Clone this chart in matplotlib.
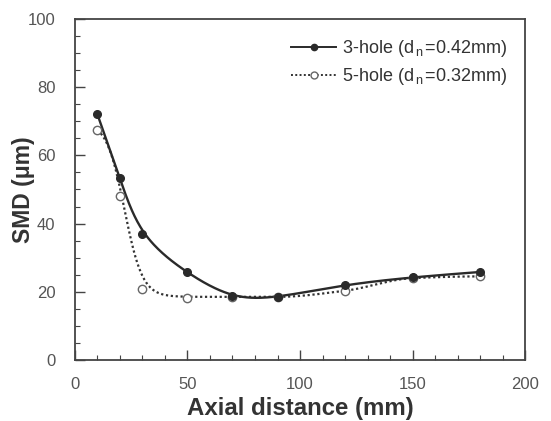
import numpy as np
import matplotlib
matplotlib.use('Agg')
import matplotlib.pyplot as plt
from matplotlib.ticker import MultipleLocator

plt.rcParams['font.family'] = ['Liberation Sans', 'DejaVu Sans']
plt.rcParams['mathtext.fontset'] = 'custom'
plt.rcParams['mathtext.rm'] = 'Liberation Sans'

# measured points
x_3hole = [10, 20, 30, 50, 70, 90, 120, 150, 180]
smd_3hole = [72.0, 53.5, 36.8, 25.7, 18.7, 18.5, 22.0, 24.2, 25.8]

x_5hole = [10, 20, 30, 50, 70, 90, 120, 150, 180]
smd_5hole = [67.5, 48.0, 20.8, 18.1, 18.4, 18.5, 20.3, 24.0, 24.5]

label_3hole = '3-hole (d$_{\\mathregular{\\,n\\,}}$=0.42mm)'
label_5hole = '5-hole (d$_{\\mathregular{\\,n\\,}}$=0.32mm)'

# fitted decay for the 5-hole curve
fit5 = dict(base=18.5, amp=51.4, x0=22.0, w=4.0)


def bspline(xk, yk, n=40, pull=0.7):
    # uniform cubic B-spline; control points pushed towards the data
    P = np.column_stack([xk, yk]).astype(float)
    Q = P.copy()
    Q[1:-1] = P[1:-1] + pull * (P[1:-1] - (P[:-2] + 4 * P[1:-1] + P[2:]) / 6)
    Q = np.vstack([Q[0], Q[0], Q, Q[-1], Q[-1]])
    t = np.linspace(0, 1, n)[:, None]
    b0 = (1 - t) ** 3 / 6
    b1 = (3 * t**3 - 6 * t**2 + 4) / 6
    b2 = (-3 * t**3 + 3 * t**2 + 3 * t + 1) / 6
    b3 = t**3 / 6
    segs = [b0 * Q[i] + b1 * Q[i + 1] + b2 * Q[i + 2] + b3 * Q[i + 3]
            for i in range(len(Q) - 3)]
    pts = np.vstack(segs)
    return pts[:, 0], pts[:, 1]


def pchip(xk, yk, xs):
    xk = np.asarray(xk, float)
    yk = np.asarray(yk, float)
    h = np.diff(xk)
    d = np.diff(yk) / h
    n = len(xk)
    m = np.zeros(n)
    for i in range(1, n - 1):
        if d[i - 1] * d[i] > 0:
            w1 = 2 * h[i] + h[i - 1]
            w2 = h[i] + 2 * h[i - 1]
            m[i] = (w1 + w2) / (w1 / d[i - 1] + w2 / d[i])
    idx = np.clip(np.searchsorted(xk, xs) - 1, 0, n - 2)
    hh = h[idx]
    t = (xs - xk[idx]) / hh
    h00 = 2 * t**3 - 3 * t**2 + 1
    h10 = t**3 - 2 * t**2 + t
    h01 = -2 * t**3 + 3 * t**2
    h11 = t**3 - t**2
    return (h00 * yk[idx] + h10 * hh * m[idx]
            + h01 * yk[idx + 1] + h11 * hh * m[idx + 1])


cx3, cy3 = bspline(x_3hole, smd_3hole)

xa = np.linspace(10, 90, 300)
curve5a = fit5['base'] + fit5['amp'] / (1 + np.exp((xa - fit5['x0']) / fit5['w']))
tail_x = [x for x in x_5hole if x >= 90]
tail_y = smd_5hole[-len(tail_x):]
xb = np.linspace(90, 180, 200)
curve5b = pchip(tail_x, tail_y, xb)
xs5 = np.concatenate([xa, xb])
curve5 = np.concatenate([curve5a, curve5b])

fig = plt.figure(figsize=(5.51, 4.21), dpi=100)
ax = fig.add_axes([0.136, 0.145, 0.817, 0.81])

line_col = '#2a2a2a'
ax.plot(xs5, curve5, linestyle=(0, (1, 1.2)), color='#333333', lw=1.6)
ax.plot(cx3, cy3, '-', color=line_col, lw=1.7)
ax.plot(x_5hole, smd_5hole, 'o', mfc='white', mec='#666666', mew=1.0, ms=6)
ax.plot(x_3hole, smd_3hole, 'o', color=line_col, ms=5.5)

# legend handles
h1, = ax.plot([], [], '-', color=line_col, lw=1.4, marker='o', ms=4.5)
h2, = ax.plot([], [], linestyle=(0, (1, 1.2)), color='#333333', lw=1.4,
              marker='o', mfc='white', mec='#666666', ms=5)
leg = ax.legend([h1, h2], [label_3hole, label_5hole], loc='upper right',
                frameon=False, fontsize=13, handlelength=2.5,
                handletextpad=0.3, labelspacing=0.4,
                bbox_to_anchor=(1.0, 0.997), borderaxespad=0.6)
for t in leg.get_texts():
    t.set_color('#333333')

ax.set_xlim(0, 200)
ax.set_ylim(0, 100)
ax.xaxis.set_major_locator(MultipleLocator(50))
ax.xaxis.set_minor_locator(MultipleLocator(10))
ax.yaxis.set_major_locator(MultipleLocator(20))
ax.yaxis.set_minor_locator(MultipleLocator(5))
ax.tick_params(which='both', direction='in', colors='#444444',
               labelcolor='#555555', labelsize=12, top=False, right=False)
ax.tick_params(axis='x', which='major', length=7, width=1.0, pad=12)
ax.tick_params(axis='y', which='major', length=7, width=1.0, pad=14)
ax.tick_params(which='minor', length=3.5, width=0.8)
for s in ax.spines.values():
    s.set_color('#444444')
    s.set_linewidth(1.3)

ax.set_xlabel('Axial distance (mm)', fontsize=17.3, fontweight='bold',
              color='#333333', labelpad=4)
ax.set_ylabel('SMD (\u03bcm)', fontsize=16.5, fontweight='bold',
              color='#333333', labelpad=-5)

fig.savefig('out.png', dpi=100)
